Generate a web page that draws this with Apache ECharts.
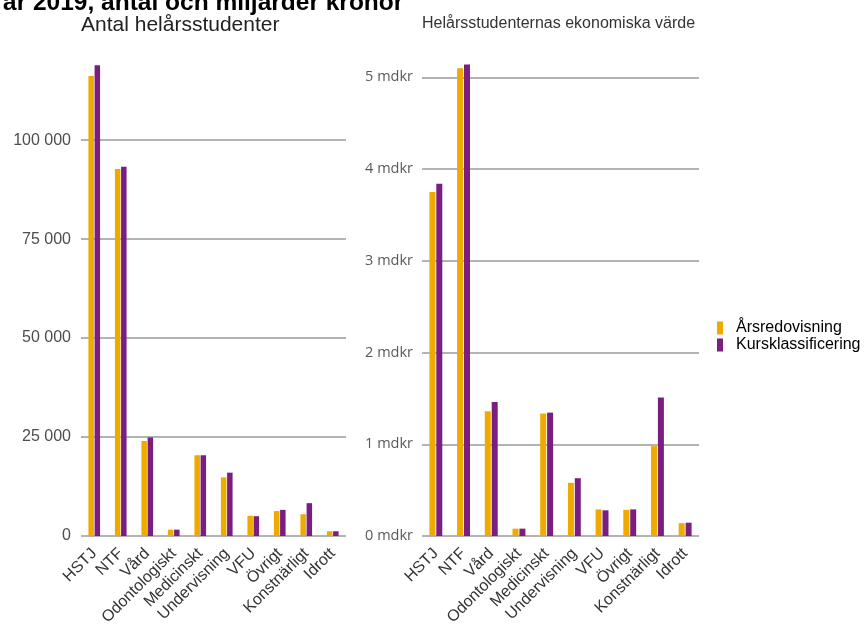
<!DOCTYPE html>
<html>
<head>
<meta charset="utf-8">
<script src="https://cdn.jsdelivr.net/npm/echarts@6/dist/echarts.min.js"></script>
<style>
  html, body { margin: 0; padding: 0; background: #fff; }
  #chart { width: 866px; height: 630px; }
</style>
</head>
<body>
<div id="chart"></div>
<script>
  // kategorier
  var categories = ['HSTJ', 'NTF', 'Vård', 'Odontologiskt', 'Medicinskt', 'Undervisning', 'VFU', 'Övrigt', 'Konstnärligt', 'Idrott'];
  var seriesNames = ['Årsredovisning', 'Kursklassificering'];

  // antal helårsstudenter
  var antalArsredovisning = [116200, 92700, 24000, 1600, 20400, 14800, 5100, 6300, 5500, 1200];
  var antalKursklassificering = [118900, 93300, 24900, 1600, 20400, 16000, 5000, 6600, 8300, 1200];

  // ekonomiskt värde, mdkr
  var vardeArsredovisning = [3.75, 5.10, 1.36, 0.08, 1.335, 0.58, 0.29, 0.285, 0.98, 0.14];
  var vardeKursklassificering = [3.84, 5.14, 1.46, 0.08, 1.345, 0.63, 0.28, 0.29, 1.51, 0.145];

  var yellow = '#EFAA00';
  var purple = '#7A1F80';

  var chart = echarts.init(document.getElementById('chart'));

  var xLabel = {
    rotate: 45,
    fontSize: 16,
    fontFamily: 'Liberation Sans',
    color: '#333',
    margin: 15,
    interval: 0
  };

  chart.setOption({
    animation: false,
    title: [
      {
        text: 'år 2019, antal och miljarder kronor',
        left: -2,
        top: -14,
        textStyle: { fontSize: 24.5, fontWeight: 'bold', fontFamily: 'Liberation Sans', color: '#000' }
      },
      {
        text: 'Antal helårsstudenter',
        left: 76,
        top: 10,
        textStyle: { fontSize: 21, fontWeight: 'normal', fontFamily: 'Liberation Sans', color: '#222' }
      },
      {
        text: 'Helårsstudenternas ekonomiska värde',
        left: 417,
        top: 11,
        textStyle: { fontSize: 16, fontWeight: 'normal', fontFamily: 'Liberation Sans', color: '#333' }
      }
    ],
    legend: {
      orient: 'vertical',
      left: 717,
      top: 320,
      padding: 0,
      icon: 'rect',
      itemWidth: 6,
      itemHeight: 13,
      itemGap: 1,
      data: seriesNames,
      textStyle: { fontSize: 16, lineHeight: 16, fontFamily: 'Liberation Sans', color: '#000', padding: [0, 0, 0, 8] }
    },
    grid: [
      { left: 81, top: 61, width: 265, bottom: 94 },
      { left: 422, top: 59, width: 277, bottom: 94 }
    ],
    xAxis: [
      {
        type: 'category', gridIndex: 0, data: categories,
        axisLine: { show: false }, axisTick: { show: false },
        axisLabel: xLabel
      },
      {
        type: 'category', gridIndex: 1, data: categories,
        axisLine: { show: false }, axisTick: { show: false },
        axisLabel: xLabel
      }
    ],
    yAxis: [
      {
        type: 'value', gridIndex: 0, min: 0, max: 120000, interval: 25000,
        axisLine: { show: false }, axisTick: { show: false },
        splitLine: { showMaxLine: false, lineStyle: { color: '#9a9a9a', width: 1.5 } },
        axisLabel: {
          showMaxLabel: false,
          fontSize: 16, fontFamily: 'Liberation Sans', color: '#4d4d4d', margin: 10,
          formatter: function (v) { return String(v).replace(/\B(?=(\d{3})+(?!\d))/g, ' '); }
        }
      },
      {
        type: 'value', gridIndex: 1, min: 0, max: 5.2, interval: 1,
        axisLine: { show: false }, axisTick: { show: false },
        splitLine: { showMaxLine: false, lineStyle: { color: '#9a9a9a', width: 1.5 } },
        axisLabel: {
          showMaxLabel: false,
          fontSize: 14.5, fontFamily: 'Open Sans', color: '#595959', margin: 9,
          formatter: '{value} mdkr'
        }
      }
    ],
    series: [
      {
        name: 'Årsredovisning', type: 'bar', xAxisIndex: 0, yAxisIndex: 0,
        barWidth: 5.5, barGap: '12%', itemStyle: { color: yellow },
        data: antalArsredovisning
      },
      {
        name: 'Kursklassificering', type: 'bar', xAxisIndex: 0, yAxisIndex: 0,
        barWidth: 5.5, barGap: '12%', itemStyle: { color: purple },
        data: antalKursklassificering
      },
      {
        name: 'Årsredovisning', type: 'bar', xAxisIndex: 1, yAxisIndex: 1,
        barWidth: 6, barGap: '15%', itemStyle: { color: yellow },
        data: vardeArsredovisning
      },
      {
        name: 'Kursklassificering', type: 'bar', xAxisIndex: 1, yAxisIndex: 1,
        barWidth: 6, barGap: '15%', itemStyle: { color: purple },
        data: vardeKursklassificering
      }
    ]
  });
</script>
</body>
</html>
